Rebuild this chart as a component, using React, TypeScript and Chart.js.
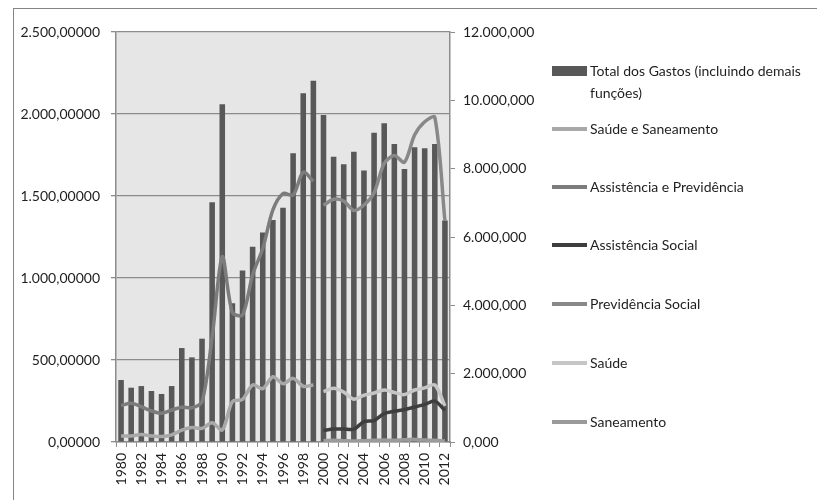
import React, { useEffect, useRef } from "react";
import { Chart, registerables } from "chart.js";

Chart.register(...registerables);

// ---- Data ----
const years = [
  "1980", "1981", "1982", "1983", "1984", "1985", "1986", "1987", "1988", "1989",
  "1990", "1991", "1992", "1993", "1994", "1995", "1996", "1997", "1998", "1999",
  "2000", "2001", "2002", "2003", "2004", "2005", "2006", "2007", "2008", "2009",
  "2010", "2011", "2012",
];

// Bars – right axis (0 – 12.000,000)
const totalGastos = [
  1814, 1589, 1637, 1493, 1406, 1637, 2750, 2477, 3024, 7018,
  9883, 4061, 5016, 5717, 6134, 6499, 6859, 8448, 10205, 10574,
  9571, 8352, 8126, 8496, 7944, 9053, 9326, 8722, 7992, 8626,
  8597, 8722, 6480,
];

// Lines – left axis (0 – 2.500,00000)
const saudeSaneamento = [
  37, 37, 45, 37, 33, 43, 73, 89, 83, 118,
  73, 246, 260, 348, 325, 398, 355, 388, 340, 348,
  null, null, null, null, null, null, null, null, null, null,
  null, null, null,
];
const assistenciaPrevidencia = [
  222, 236, 215, 189, 175, 195, 212, 209, 246, 640,
  1130, 790, 775, 1020, 1180, 1415, 1515, 1506, 1645, 1590,
  null, null, null, null, null, null, null, null, null, null,
  null, null, null,
];
const assistenciaSocial = [
  null, null, null, null, null, null, null, null, null, null,
  null, null, null, null, null, null, null, null, null, null,
  71, 79, 79, 78, 124, 131, 173, 187, 198, 213,
  229, 249, 193,
];
const previdenciaSocial = [
  null, null, null, null, null, null, null, null, null, null,
  null, null, null, null, null, null, null, null, null, null,
  1443, 1480, 1470, 1412, 1445, 1520, 1699, 1747, 1706, 1872,
  1953, 1979, 1348,
];
const saude = [
  null, null, null, null, null, null, null, null, null, null,
  null, null, null, null, null, null, null, null, null, null,
  307, 327, 304, 261, 285, 299, 317, 302, 289, 317,
  330, 348, 220,
];
const saneamento = [
  null, null, null, null, null, null, null, null, null, null,
  null, null, null, null, null, null, null, null, null, null,
  8, 10, 8, 6, 8, 10, 12, 10, 14, 16,
  12, 10, 6,
];

const seriesLabels = [
  "Total dos Gastos (incluindo demais funções)",
  "Saúde e Saneamento",
  "Assistência e Previdência",
  "Assistência Social",
  "Previdência Social",
  "Saúde",
  "Saneamento",
];

// ---- Styles ----
const FONT = "Lato, 'DejaVu Sans', sans-serif";
const BAR_COLOR = "#585858";
const LINE_COLORS = ["#a8a8a8", "#7c7c7c", "#3e3e3e", "#888888", "#c6c6c6", "#9a9a9a"];
const GRID = "#8c8c8c";

function fmt(v: number, dec: number) {
  const [i, d] = v.toFixed(dec).split(".");
  return i.replace(/\B(?=(\d{3})+(?!\d))/g, ".") + "," + d;
}

const plotBg = {
  id: "plotBg",
  beforeDraw(chart: any) {
    const { ctx, chartArea: a } = chart;
    ctx.save();
    ctx.fillStyle = "#e6e6e6";
    ctx.fillRect(a.left, a.top, a.right - a.left, a.bottom - a.top);
    ctx.restore();
  },
};

// legend vertical centres (px)
const legendY = [71, 129, 187, 245, 304, 363, 422];

export default function App() {
  const ref = useRef<HTMLCanvasElement | null>(null);

  useEffect(() => {
    if (!ref.current) return;
    const lineSets = [
      saudeSaneamento,
      assistenciaPrevidencia,
      assistenciaSocial,
      previdenciaSocial,
      saude,
      saneamento,
    ];
    const chart = new Chart(ref.current, {
      type: "bar",
      data: {
        labels: years,
        datasets: [
          {
            type: "bar",
            label: seriesLabels[0],
            data: totalGastos,
            backgroundColor: BAR_COLOR,
            yAxisID: "y1",
            barPercentage: 0.55,
            categoryPercentage: 1,
            order: 10,
          } as any,
          ...lineSets.map((d, k) => ({
            type: "line",
            label: seriesLabels[k + 1],
            data: d,
            borderColor: LINE_COLORS[k],
            backgroundColor: LINE_COLORS[k],
            borderWidth: 3.5,
            pointRadius: 0,
            tension: 0.3,
            spanGaps: false,
            yAxisID: "y",
            order: 1,
          })),
        ],
      },
      options: {
        animation: false,
        responsive: true,
        maintainAspectRatio: false,
        layout: { padding: { left: 0, top: 32, right: 267, bottom: 0 } },
        plugins: { legend: { display: false }, tooltip: { enabled: false } },
        scales: {
          x: {
            offset: true,
            grid: {
              display: true,
              drawOnChartArea: false,
              offset: true,
              tickLength: 5,
              color: GRID,
              lineWidth: 1,
            },
            border: { color: GRID, width: 1.5 },
            ticks: {
              autoSkip: false,
              minRotation: 90,
              maxRotation: 90,
              padding: 6,
              color: "#1e1e1e",
              font: { family: FONT, size: 14 },
              callback: (_v: any, i: number) => (i % 2 === 0 ? years[i] : ""),
            },
            afterFit: (s: any) => {
              s.height = 58;
            },
          },
          y: {
            position: "left",
            min: 0,
            max: 2500,
            ticks: {
              stepSize: 500,
              padding: 11,
              color: "#1e1e1e",
              font: { family: FONT, size: 14 },
              callback: (v: any) => fmt(Number(v), 5),
            },
            grid: { color: GRID, lineWidth: 1.3, tickLength: 5 },
            border: { color: GRID, width: 1.5 },
            afterFit: (s: any) => {
              s.width = 116;
            },
          },
          y1: {
            position: "right",
            min: 0,
            max: 12000,
            ticks: {
              stepSize: 2000,
              padding: 8,
              color: "#1e1e1e",
              font: { family: FONT, size: 14 },
              callback: (v: any) => fmt(Number(v), 3),
            },
            grid: { drawOnChartArea: false, color: GRID, tickLength: 5 },
            border: { color: GRID, width: 1.5 },
            afterFit: (s: any) => {
              s.width = 100;
            },
          },
        },
      },
      plugins: [plotBg],
    });
    return () => chart.destroy();
  }, []);

  const swatchColors = [BAR_COLOR, ...LINE_COLORS];

  return (
    <div
      style={{
        position: "absolute",
        left: 0,
        top: 0,
        width: 817,
        height: 500,
        overflow: "hidden",
        background: "#fff",
        fontFamily: FONT,
      }}
    >
      <div
        style={{
          position: "absolute",
          left: 13,
          top: 8,
          width: 817,
          height: 500,
          borderTop: "1.5px solid #858585",
          borderLeft: "1.5px solid #858585",
        }}
      />
      <canvas ref={ref} style={{ position: "absolute", left: 0, top: 0, width: 817, height: 500 }} />
      {seriesLabels.map((lab, k) => {
        const isBar = k === 0;
        const parts = isBar ? ["Total dos Gastos (incluindo demais", "funções)"] : [lab];
        return (
          <div
            key={lab}
            style={{
              position: "absolute",
              left: 552,
              top: legendY[k] - 11,
              display: "flex",
              alignItems: "flex-start",
              fontSize: 14,
              lineHeight: "22px",
              color: "#1e1e1e",
              whiteSpace: "nowrap",
            }}
          >
            <div
              style={{
                width: 35,
                height: isBar ? 10 : 3.5,
                marginTop: isBar ? 6 : 9,
                background: swatchColors[k],
                flex: "none",
              }}
            />
            <div style={{ marginLeft: 3 }}>
              {parts.map((p) => (
                <div key={p}>{p}</div>
              ))}
            </div>
          </div>
        );
      })}
    </div>
  );
}
